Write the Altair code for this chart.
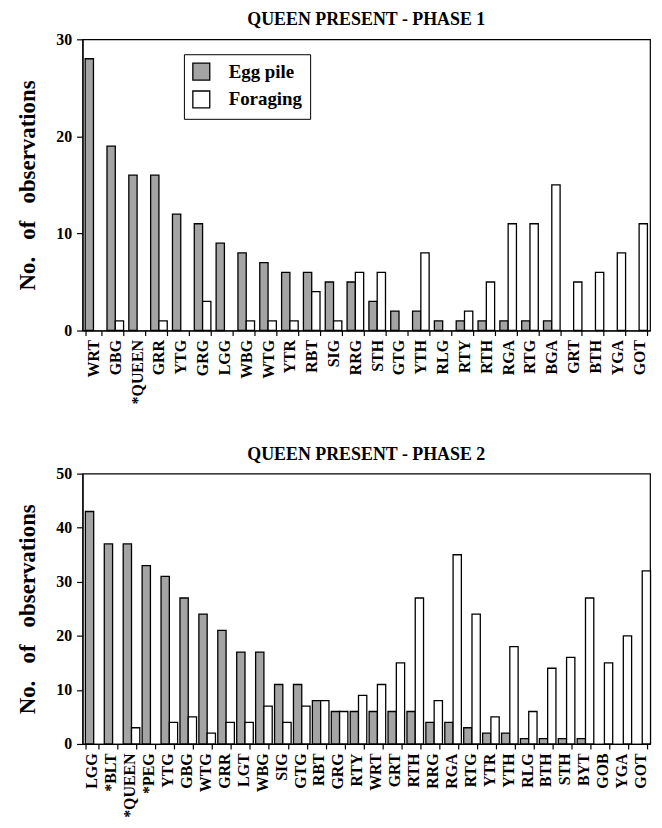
import altair as alt
import pandas as pd

# ---------------- data ----------------
p1_ids = ["WRT", "GBG", "*QUEEN", "GRR", "YTG", "GRG", "LGG", "WBG", "WTG", "YTR",
          "RBT", "SIG", "RRG", "STH", "GTG", "YTH", "RLG", "RTY", "RTH", "RGA",
          "RTG", "BGA", "GRT", "BTH", "YGA", "GOT"]
p1_egg = [28, 19, 16, 16, 12, 11, 9, 8, 7, 6, 6, 5, 5, 3, 2, 2, 1, 1, 1, 1, 1, 1, 0, 0, 0, 0]
p1_forage = [0, 1, 0, 1, 0, 3, 0, 1, 1, 1, 4, 1, 6, 6, 0, 8, 0, 2, 5, 11, 11, 15, 5, 6, 8, 11]

p2_ids = ["LGG", "*BLT", "*QUEEN", "*PEG", "YTG", "GBG", "WTG", "GRR", "LGT", "WBG",
          "SIG", "GTG", "RBT", "GRG", "RTY", "WRT", "GRT", "RTH", "RRG", "RGA",
          "RTG", "YTR", "YTH", "RLG", "BTH", "STH", "BYT", "GOB", "YGA", "GOT"]
p2_egg = [43, 37, 37, 33, 31, 27, 24, 21, 17, 17, 11, 11, 8, 6, 6, 6, 6, 6, 4, 4,
          3, 2, 2, 1, 1, 1, 1, 0, 0, 0]
p2_forage = [0, 0, 3, 0, 4, 5, 2, 4, 4, 7, 4, 7, 8, 6, 9, 11, 15, 27, 8, 35,
             24, 5, 18, 6, 14, 16, 27, 15, 20, 32]

series_names = ["Egg pile", "Foraging"]
series_colors = ["#a4a4a4", "#ffffff"]
titles = ["QUEEN PRESENT - PHASE 1", "QUEEN PRESENT - PHASE 2"]
y_title = "No.\u00a0\u00a0\u00a0of\u00a0\u00a0\u00a0observations"

FONT = "Liberation Serif"


def panel(ids, egg, forage, title, ymax, width, height, lx, ly, pad_inner):
    df = pd.DataFrame({
        "id": ids * 2,
        "series": [series_names[0]] * len(ids) + [series_names[1]] * len(ids),
        "value": egg + forage,
    })
    df = df[df["value"] > 0]
    return alt.Chart(
        df,
        title=alt.Title(title, font=FONT, fontSize=18, fontWeight="bold",
                        color="black", anchor="middle", offset=2),
    ).mark_bar(stroke="black", strokeWidth=1.3).encode(
        x=alt.X("id:N", sort=ids,
                scale=alt.Scale(domain=ids, paddingInner=pad_inner, paddingOuter=pad_inner / 2),
                axis=alt.Axis(title=None, labelAngle=-90, tickBand="extent",
                              labelFontSize=16, labelPadding=4, tickSize=5)),
        xOffset=alt.XOffset("series:N", sort=series_names,
                            scale=alt.Scale(domain=series_names, paddingInner=0, paddingOuter=0)),
        y=alt.Y("value:Q", scale=alt.Scale(domain=[0, ymax], nice=False),
                axis=alt.Axis(values=list(range(0, ymax + 1, 10)), title=y_title,
                              grid=False, labelFontSize=16, tickSize=6, labelPadding=5,
                              titleFont=FONT, titleFontSize=23, titleFontWeight="bold",
                              titleColor="black", titlePadding=16)),
        color=alt.Color("series:N",
                        scale=alt.Scale(domain=series_names, range=series_colors),
                        legend=alt.Legend(orient="none", legendX=lx, legendY=ly, title=None,
                                          symbolType="square", symbolSize=290,
                                          symbolStrokeColor="black", symbolStrokeWidth=1.3,
                                          labelFont=FONT, labelFontSize=19, labelFontWeight="bold",
                                          labelColor="black", labelOffset=18,
                                          labelExpr="datum.label + '\u00a0\u00a0\u00a0\u00a0'",
                                          strokeColor="black", fillColor="white",
                                          padding=8, rowPadding=5)),
    ).properties(width=width, height=height)


top = panel(p1_ids, p1_egg, p1_forage, titles[0], 30, 571, 293, 102, 15, 0.24)
bottom = panel(p2_ids, p2_egg, p2_forage, titles[1], 50, 571, 272, 95, 13, 0.3)

chart = alt.vconcat(top, bottom, spacing=40).properties(
    padding={"left": 8, "top": 0, "right": 2, "bottom": 0}
).configure_view(
    stroke="black", strokeWidth=1.2
).configure_axis(
    labelFont=FONT, labelFontWeight="bold", labelColor="black",
    domainColor="black", tickColor="black", domainWidth=1.2, tickWidth=1.2
)

chart.save("out.html", embed_options={"renderer": "svg", "actions": False})
